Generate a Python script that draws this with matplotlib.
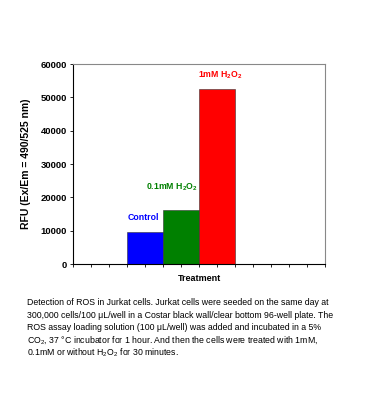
import matplotlib
matplotlib.use('Agg')
import matplotlib.pyplot as plt
from matplotlib.ticker import MultipleLocator

plt.rcParams['font.family'] = ['Liberation Sans', 'DejaVu Sans']
plt.rcParams['mathtext.default'] = 'regular'

# data
groups = ['Control', '0.1mM H$_2$O$_2$', '1mM H$_2$O$_2$']
rfu = [9500, 16200, 52500]
colors = ['#0000ff', '#008000', '#ff0000']
label_y = [13800, 23000, 56600]
label_x = [3.9, 5.5, 8.2]
positions = [4, 6, 8]

caption_lines = [
    "Detection of ROS in Jurkat cells. Jurkat cells were seeded on the same day at",
    "300,000 cells/100 \u03bcL/well in a Costar black wall/clear bottom 96-well plate. The",
    "ROS assay loading solution (100 \u03bcL/well) was added and incubated in a 5%",
    "CO$_2$, 37 \u00b0C incubator for 1 hour. And then the cells were treated with 1mM,",
    "0.1mM or without H$_2$O$_2$ for 30 minutes.",
]

fig = plt.figure(figsize=(3.7, 4.2), dpi=100)
ax = fig.add_axes([73/370, 1 - 264/420, 252/370, 200/420])

ax.bar(positions, rfu, width=2, color=colors, edgecolor='#333333', linewidth=0.4)
for x, y, t, c in zip(label_x, label_y, groups, colors):
    ax.text(x, y, t, color=c, fontsize=6.3, fontweight='bold', ha='center', va='center')

ax.set_xlim(0, 14)
ax.set_ylim(0, 60000)
ax.xaxis.set_major_locator(MultipleLocator(1))
ax.yaxis.set_major_locator(MultipleLocator(10000))
ax.tick_params(axis='x', length=2.5, width=0.6, direction='out', labelbottom=False)
ax.tick_params(axis='y', length=2.5, width=0.6, direction='out', labelsize=6.8, pad=2)
for lab in ax.get_yticklabels():
    lab.set_fontweight('bold')
for s in ['top', 'right']:
    ax.spines[s].set_color('#888888')
for s in ax.spines.values():
    s.set_linewidth(0.8)

ax.set_xlabel('Treatment', fontsize=6.5, fontweight='bold', labelpad=5)
ax.set_ylabel('RFU (Ex/Em = 490/525 nm)', fontsize=7.5, fontweight='bold', labelpad=7)

for i, line in enumerate(caption_lines):
    fig.text(27/370, 1 - (302.5 + i * 12.5)/420, line, fontsize=6.35, ha='left', va='center',
             family=['Liberation Sans Narrow', 'Liberation Sans', 'DejaVu Sans'])

fig.savefig('out.png', dpi=100)
